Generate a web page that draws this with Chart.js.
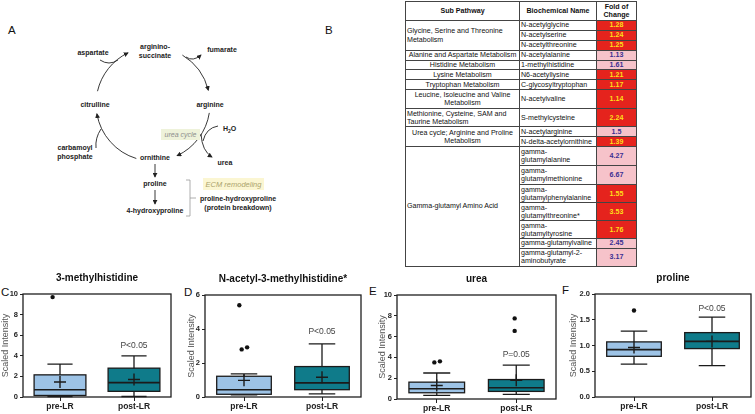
<!DOCTYPE html>
<html>
<head>
<meta charset="utf-8">
<script src="https://cdn.jsdelivr.net/npm/chart.js@4.4.1/dist/chart.umd.min.js"></script>
<style>
  body { margin: 0; width: 755px; height: 414px; position: relative; overflow: hidden; background: #fff;
         font-family: 'Liberation Sans', Arial, sans-serif; }
  .lbl { position: absolute; font-size: 11.5px; color: #111; line-height: 12px; }
  #pathway { position: absolute; left: 0; top: 0; }
  #metTable { position: absolute; left: 405px; top: 1px; border-collapse: collapse; table-layout: fixed;
              font-size: 7.1px; color: #111; }
  #metTable td, #metTable th { border: 1px solid #444; padding: 0 1px; line-height: 8.4px; vertical-align: middle;
                               overflow: hidden; }
  #metTable th { font-weight: bold; text-align: center; }
  #metTable td.fold { text-align: center; font-weight: bold; white-space: nowrap; }
  #metTable td.name { white-space: nowrap; }
  canvas { position: absolute; }
</style>
</head>
<body>
<svg id="pathway" width="300" height="230"></svg>
<table id="metTable"></table>
<div class="lbl" style="left:8px;top:24px">A</div>
<div class="lbl" style="left:325px;top:24px">B</div>
<div class="lbl" style="left:1px;top:286px">C</div>
<div class="lbl" style="left:184px;top:286px">D</div>
<div class="lbl" style="left:369px;top:285px">E</div>
<div class="lbl" style="left:562px;top:284px">F</div>
<script>
// ---- box plot data ----
const groups = ['pre-LR', 'post-LR'];
const chartTitles = ['3-methylhistidine', 'N-acetyl-3-methylhistidine*', 'urea', 'proline'];
// [lower whisker, Q1, median, Q3, upper whisker, mean] for pre-LR, post-LR
const methylhistidineBox = [[0.05, 0.15, 0.7, 2.15, 3.2, 1.45], [0.05, 0.55, 1.4, 2.8, 4.0, 1.7]];
const acetylMethylhistidineBox = [[0.12, 0.16, 0.43, 1.22, 1.36, 0.98], [0.18, 0.43, 0.83, 1.79, 3.13, 1.16]];
const ureaBox = [[0.35, 0.6, 0.98, 1.62, 2.5, 1.3], [0.45, 0.73, 1.08, 1.87, 3.25, 1.8]];
const prolineBox = [[0.64, 0.79, 0.92, 1.07, 1.28, 0.96], [0.61, 0.94, 1.08, 1.25, 1.55, 1.08]];
// outliers: [group position (with small jitter), value]
const methylhistidineOut = [[-0.1, 9.7]];
const acetylMethylhistidineOut = [[-0.06, 5.4], [-0.03, 2.8], [0.04, 2.92]];
const ureaOut = [[-0.03, 3.52], [0.04, 3.62], [0.98, 7.75], [0.98, 6.55]];
const prolineOut = [[0, 1.68]];
const yMaxes = [10, 6, 10, 2];
const yStepSizes = [2, 2, 2, 0.5];
const pLabels = ['P<0.05', 'P<0.05', 'P=0.05', 'P<0.05'];
const pLabelValues = [4.95, 3.85, 4.3, 1.72];

// ---- table data ----
const subPathways = ['Glycine, Serine and Threonine<br>Metabolism', 'Alanine and Aspartate Metabolism', 'Histidine Metabolism',
  'Lysine Metabolism', 'Tryptophan Metabolism', 'Leucine, Isoleucine and Valine<br>Metabolism',
  'Methionine, Cysteine, SAM and<br>Taurine Metabolism', 'Urea cycle; Arginine and Proline<br>Metabolism',
  'Gamma-glutamyl Amino Acid'];
const subPathwaySpans = [3, 1, 1, 1, 1, 1, 1, 2, 7];
const biochemicals = ['N-acetylglycine', 'N-acetylserine', 'N-acetylthreonine', 'N-acetylalanine', '1-methylhistidine',
  'N6-acetyllysine', 'C-glycosyltryptophan', 'N-acetylvaline', 'S-methylcysteine', 'N-acetylarginine',
  'N-delta-acetylornithine', 'gamma-<br>glutamylalanine', 'gamma-<br>glutamylmethionine', 'gamma-<br>glutamylphenylalanine',
  'gamma-<br>glutamylthreonine*', 'gamma-<br>glutamyltyrosine', 'gamma-glutamylvaline', 'gamma-glutamyl-2-<br>aminobutyrate'];
const foldChanges = [1.28, 1.24, 1.25, 1.13, 1.61, 1.21, 1.17, 1.14, 2.24, 1.5, 1.39, 4.27, 6.67, 1.55, 3.53, 1.76, 2.45, 3.17];
const foldSignificant = [1, 1, 1, 0, 0, 1, 1, 1, 1, 0, 1, 0, 0, 1, 1, 1, 0, 0];

// layout only
const subPathwayAlign = ['left', 'center', 'center', 'center', 'center', 'center', 'left', 'center', 'left'];
const rowHeights = [10, 10, 10, 10, 9, 10, 10, 19, 18, 10, 10, 19, 19, 18, 18, 18, 9, 16];

function buildTable() {
  const t = document.getElementById('metTable');
  let html = '<colgroup><col style="width:114px"><col style="width:77px"><col style="width:40px"></colgroup>';
  html += '<tr style="height:19px"><th>Sub Pathway</th><th>Biochemical Name</th><th>Fold of<br>Change</th></tr>';
  let row = 0;
  subPathways.forEach((sp, k) => {
    for (let j = 0; j < subPathwaySpans[k]; j++) {
      html += `<tr style="height:${rowHeights[row]}px">`;
      if (j === 0) {
        const nw = sp.indexOf('<br>') < 0 ? 'white-space:nowrap;' : '';
        html += `<td rowspan="${subPathwaySpans[k]}" style="text-align:${subPathwayAlign[k]};${nw}">${sp}</td>`;
      }
      html += `<td class="name">${biochemicals[row]}</td>`;
      const sig = foldSignificant[row];
      html += `<td class="fold" style="background:${sig ? '#e5231d' : '#f6c3ca'};color:${sig ? '#ffdf1a' : '#3a2f92'}">${foldChanges[row]}</td>`;
      html += '</tr>';
      row++;
    }
  });
  t.innerHTML = html;
}

function buildPathway() {
  const CX = 153, CY = 104, R = 57;
  const p = a => [CX + R * Math.cos(a * Math.PI / 180), CY + R * Math.sin(a * Math.PI / 180)];
  const arc = (a0, a1) => {
    const [x0, y0] = p(a0), [x1, y1] = p(a1);
    return `M${x0.toFixed(1)},${y0.toFixed(1)} A${R},${R} 0 0 1 ${x1.toFixed(1)},${y1.toFixed(1)}`;
  };
  const txt = (x, y, s, extra = '') => `<text x="${x}" y="${y}" text-anchor="middle" ${extra}>${s}</text>`;
  let s = '<defs><marker id="ah" viewBox="0 0 6 6" refX="5" refY="3" markerWidth="5" markerHeight="5" orient="auto" markerUnits="userSpaceOnUse"><path d="M0,0 L6,3 L0,6 z" fill="#222"/></marker></defs>';
  s += '<g fill="none" stroke="#222" stroke-width="0.9">';
  [[-59, -14], [9, 65], [107, 170], [193, 244]].forEach(([a, b]) => {
    s += `<path d="${arc(a, b)}" marker-end="url(#ah)"/>`;
  });
  s += '<path d="M100,60 Q109,66 118,60"/>';
  s += '<path d="M186,57 Q193,62 201,55" marker-end="url(#ah)"/>';
  s += '<path d="M218,126 Q206,128 203,141"/>';
  s += '<path d="M201,134 Q202,151 212,157" marker-end="url(#ah)"/>';
  s += '<path d="M96,148 Q95,138 101,129"/>';
  s += '<path d="M155,164 V177" marker-end="url(#ah)"/>';
  s += '<path d="M155,190 V204" marker-end="url(#ah)"/>';
  s += '</g>';
  s += '<path d="M186,180 H190 V216 H186 M190,198 H196" fill="none" stroke="#999" stroke-width="0.8"/>';
  s += '<rect x="161" y="129" width="39" height="11" fill="#eef2da"/>';
  s += '<rect x="203" y="178" width="61" height="12" fill="#fbf6d2"/>';
  s += '<g font-family="Liberation Sans, Arial, sans-serif" font-size="7" font-weight="bold" fill="#222">';
  s += txt(155, 48.5, 'arginino-') + txt(155, 57.5, 'succinate');
  s += txt(93, 54.5, 'aspartate') + txt(222, 51.5, 'fumarate');
  s += txt(95, 106.5, 'citrulline') + txt(210, 106.5, 'arginine');
  s += '<text x="223" y="130.5">H<tspan font-size="5" dy="2">2</tspan><tspan dy="-2">O</tspan></text>';
  s += txt(75, 149.5, 'carbamoyl') + txt(75, 158.5, 'phosphate');
  s += txt(155, 159.5, 'ornithine') + txt(225, 164.5, 'urea');
  s += txt(155, 185.5, 'proline') + txt(155, 212.5, '4-hydroxyproline');
  s += txt(238, 200.5, 'proline-hydroxyproline') + txt(238, 209.5, '(protein breakdown)');
  s += '</g>';
  s += txt(180.5, 137, 'urea cycle', 'font-family="Liberation Sans, Arial, sans-serif" font-size="7" font-style="italic" fill="#8d8d8d"');
  s += txt(233.5, 187, 'ECM remodeling', 'font-family="Liberation Sans, Arial, sans-serif" font-size="7.5" font-style="italic" fill="#aba36c"');
  document.getElementById('pathway').innerHTML = s;
}

// ---- box plots ----
Chart.defaults.font.family = "'Liberation Sans', Arial, sans-serif";
const boxFills = ['#9dc3e6', '#0f7b8a'];
const BOX_HALF = 0.35;
const CAP_HALF = 0.17;
// canvas left/width and plot area [left, right, top, bottom] in page pixels
const layouts = [
  { left: 0, width: 178, plot: [23, 171, 294, 397] },
  { left: 186, width: 182, plot: [205, 361, 295, 397] },
  { left: 377, width: 186, plot: [397, 556, 295, 399] },
  { left: 568, width: 187, plot: [595, 752, 294, 397] },
];

function buildPanel(i, box, outliers) {
  const L = layouts[i];
  const top = L.plot[2] - 26;
  const canvas = document.createElement('canvas');
  canvas.width = L.width;
  canvas.height = 414 - top;
  canvas.style.left = L.left + 'px';
  canvas.style.top = top + 'px';
  document.body.appendChild(canvas);
  const yW = L.plot[0] - L.left;
  const xH = 414 - L.plot[3];
  const rightPad = L.left + L.width - L.plot[1];

  const boxPlugin = {
    id: 'boxplot' + i,
    beforeDatasetsDraw(chart) {
      const { ctx, scales: { x, y } } = chart;
      const py = v => y.getPixelForValue(v);
      box.forEach((s, g) => {
        const [lo, q1, med, q3, hi, mean] = s;
        const cx = x.getPixelForValue(g);
        const bw = x.getPixelForValue(g + BOX_HALF) - cx;
        const cw = x.getPixelForValue(g + CAP_HALF) - cx;
        ctx.save();
        ctx.strokeStyle = '#1b1b1b';
        ctx.lineWidth = 1.3;
        ctx.beginPath();
        ctx.moveTo(cx, py(lo)); ctx.lineTo(cx, py(hi));
        ctx.moveTo(cx - cw, py(lo)); ctx.lineTo(cx + cw, py(lo));
        ctx.moveTo(cx - cw, py(hi)); ctx.lineTo(cx + cw, py(hi));
        ctx.stroke();
        ctx.fillStyle = boxFills[g];
        ctx.fillRect(cx - bw, py(q3), 2 * bw, py(q1) - py(q3));
        ctx.strokeRect(cx - bw, py(q3), 2 * bw, py(q1) - py(q3));
        ctx.lineWidth = 1.6;
        ctx.beginPath();
        ctx.moveTo(cx - bw, py(med)); ctx.lineTo(cx + bw, py(med));
        ctx.stroke();
        ctx.lineWidth = 1.4;
        ctx.beginPath();
        ctx.moveTo(cx - 6, py(mean)); ctx.lineTo(cx + 6, py(mean));
        ctx.moveTo(cx, py(mean) - 6); ctx.lineTo(cx, py(mean) + 6);
        ctx.stroke();
        ctx.restore();
      });
    },
    afterDraw(chart) {
      const { ctx, chartArea: a, scales: { x, y } } = chart;
      ctx.save();
      ctx.strokeStyle = '#1f1f1f';
      ctx.lineWidth = 1.3;
      ctx.strokeRect(a.left, a.top, a.right - a.left, a.bottom - a.top);
      ctx.fillStyle = '#444';
      ctx.font = "8.5px 'Liberation Sans', Arial, sans-serif";
      ctx.textAlign = 'center';
      ctx.textBaseline = 'middle';
      ctx.fillText(pLabels[i], x.getPixelForValue(1), y.getPixelForValue(pLabelValues[i]));
      ctx.restore();
    }
  };

  return new Chart(canvas, {
    type: 'scatter',
    data: {
      datasets: [{
        data: outliers.map(([xv, yv]) => ({ x: xv, y: yv })),
        pointRadius: 2.2,
        pointBackgroundColor: '#111',
        pointBorderWidth: 0,
      }],
    },
    options: {
      responsive: false,
      animation: false,
      events: [],
      layout: { padding: { left: 0, right: rightPad, top: 0, bottom: 0 } },
      plugins: {
        legend: { display: false },
        tooltip: { enabled: false },
        title: {
          display: true, text: chartTitles[i], fullSize: false, color: '#111',
          font: { size: 10, weight: 'bold' }, padding: { top: 4, bottom: 10 },
        },
      },
      scales: {
        x: {
          type: 'linear', min: -0.5, max: 1.5,
          afterBuildTicks: (s) => { s.ticks = groups.map((g, k) => ({ value: k })); },
          afterFit: (s) => { s.height = xH; },
          grid: { display: true, drawOnChartArea: false, drawTicks: true, tickLength: 4, color: '#222' },
          border: { display: false },
          ticks: {
            callback: (v) => groups[v], maxRotation: 0, padding: 1, color: '#222',
            font: { size: 8.5, weight: 'bold' },
          },
        },
        y: {
          min: 0, max: yMaxes[i],
          afterFit: (s) => { s.width = yW; },
          grid: { display: true, drawOnChartArea: false, drawTicks: true, tickLength: 3, color: '#222' },
          border: { display: false },
          title: { display: true, text: 'Scaled Intensity', color: '#555', font: { size: 9 }, padding: { top: 0, bottom: 0 } },
          ticks: {
            stepSize: yStepSizes[i], padding: 2, color: '#222', font: { size: 7.5, weight: 'bold' },
            callback: (v) => (yStepSizes[i] < 1 ? v.toFixed(1) : v),
          },
        },
      },
    },
    plugins: [boxPlugin],
  });
}

buildPathway();
buildTable();
buildPanel(0, methylhistidineBox, methylhistidineOut);
buildPanel(1, acetylMethylhistidineBox, acetylMethylhistidineOut);
buildPanel(2, ureaBox, ureaOut);
buildPanel(3, prolineBox, prolineOut);
</script>
</body>
</html>
